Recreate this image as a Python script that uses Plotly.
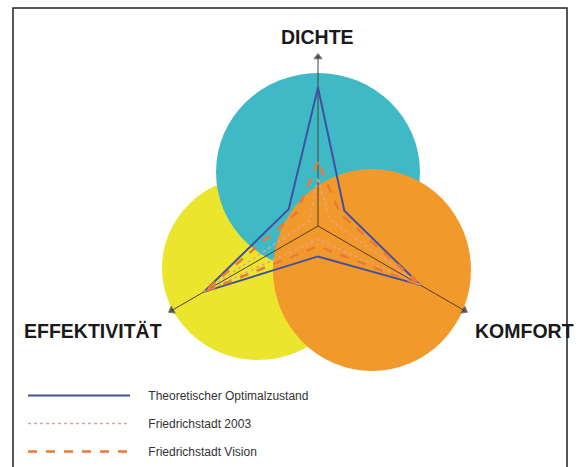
import plotly.graph_objects as go

# radar axes: three labelled ones plus the in-between directions
axis_names = ["DICHTE", "EFFEKTIVITÄT", "KOMFORT"]
axis_theta = [90, 210, 330]
theta = [90, 150, 210, 270, 330, 30, 90]

optimal = [0.82, 0.20, 0.78, 0.18, 0.70, 0.18, 0.82]
stadt_2003 = [0.28, 0.06, 0.78, 0.08, 0.70, 0.08, 0.28]
stadt_vision = [0.38, 0.15, 0.78, 0.12, 0.70, 0.15, 0.38]

series_names = ["Theoretischer Optimalzustand", "Friedrichstadt 2003", "Friedrichstadt Vision"]

W, H = 580, 467


def px(x, y):
    return x / W, 1 - y / H


gap = "&nbsp;" * 4

fig = go.Figure()

# axis lines with small arrow heads
for name, th, ang in zip(axis_names, axis_theta, [0, 240, 120]):
    fig.add_trace(go.Scatterpolar(
        r=[0, 1], theta=[th, th], mode="lines+markers",
        line=dict(color="#4a4038", width=1),
        marker=dict(symbol="triangle-up", size=[0, 7], angle=ang, color="#111"),
        showlegend=False, hoverinfo="skip"))

fig.add_trace(go.Scatterpolar(
    r=optimal, theta=theta, mode="lines", name=gap + series_names[0], legendgroup="a",
    line=dict(color="#43509e", width=2)))
fig.add_trace(go.Scatterpolar(
    r=stadt_2003, theta=theta, mode="lines", name=gap + series_names[1], legendgroup="b",
    line=dict(color="#e8a08c", width=1.5, dash="dot")))
fig.add_trace(go.Scatterpolar(
    r=stadt_vision, theta=theta, mode="lines", name=gap + series_names[2], legendgroup="c",
    line=dict(color="#e87a3a", width=2.5, dash="dash")))

# venn circles behind the radar
circles = [
    ((258, 268), (96, 92), "#ece52e"),
    ((318, 172), (102, 99), "#3fb9c6"),
    ((372, 270), (99, 101), "#f2992c"),
]
shapes = []
for (cx, cy), (rx, ry), col in circles:
    x0, y0 = px(cx - rx, cy + ry)
    x1, y1 = px(cx + rx, cy - ry)
    shapes.append(dict(type="circle", xref="paper", yref="paper", x0=x0, y0=y0, x1=x1, y1=y1,
                       fillcolor=col, line=dict(width=0), layer="below"))
fx0, fy0 = px(13, 475)
fx1, fy1 = px(567, 8)
shapes.append(dict(type="rect", xref="paper", yref="paper", x0=fx0, y0=fy0, x1=fx1, y1=fy1,
                   line=dict(color="#222", width=1.5), layer="below"))

cx, cy, rad = 318, 226, 169
annotations = []
for name, (ax, ay) in zip(axis_names, [(317, 37), (93, 331), (524, 331)]):
    x, y = px(ax, ay)
    annotations.append(dict(text="<b>%s</b>" % name, x=x, y=y, xref="paper", yref="paper",
                            xanchor="center", yanchor="middle", showarrow=False,
                            font=dict(family="Arial", size=19.5, color="#1a1a1a")))

fig.update_layout(
    width=W, height=H,
    margin=dict(l=0, r=0, t=0, b=0),
    paper_bgcolor="white",
    shapes=shapes,
    annotations=annotations,
    polar=dict(
        domain=dict(x=[(cx - rad) / W, (cx + rad) / W], y=[(H - cy - rad) / H, (H - cy + rad) / H]),
        bgcolor="rgba(0,0,0,0)",
        radialaxis=dict(range=[0, 1], visible=False, showgrid=False),
        angularaxis=dict(visible=False, showgrid=False, rotation=0, direction="counterclockwise"),
    ),
    legend=dict(x=23 / W, y=1 - 381 / H, xanchor="left", yanchor="top",
                font=dict(family="Arial", size=12, color="#333"),
                itemwidth=102, tracegroupgap=9, bgcolor="rgba(0,0,0,0)"),
    showlegend=True,
)

# page body has a default 8px margin, drop it so the figure sits at 0,0
fig.write_html("out.html", config={"displayModeBar": False},
               post_script="document.body.style.margin='0';")
